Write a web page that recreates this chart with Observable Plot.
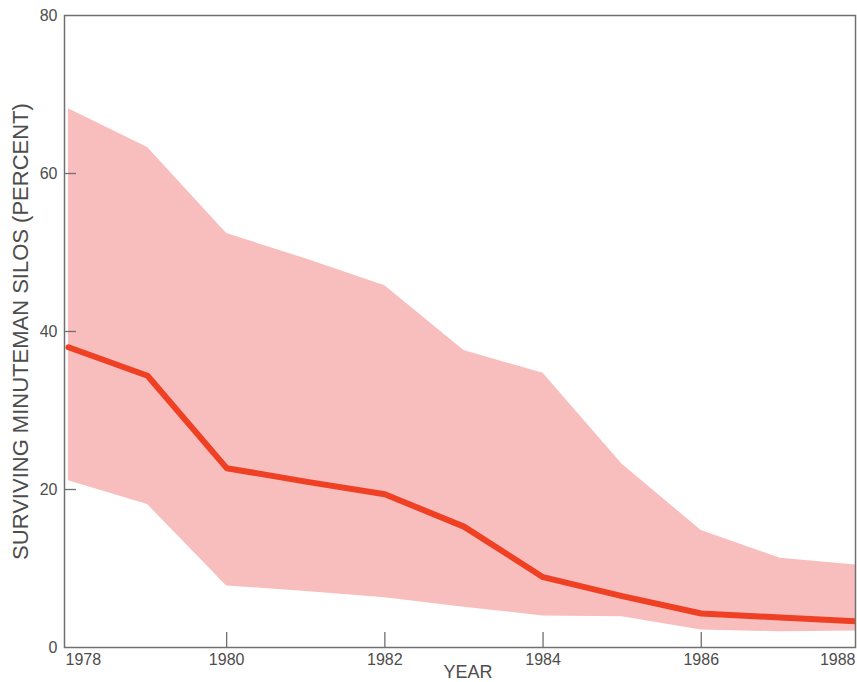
<!DOCTYPE html>
<html>
<head>
<meta charset="utf-8">
<script src="https://cdn.jsdelivr.net/npm/d3@7"></script>
<script src="https://cdn.jsdelivr.net/npm/@observablehq/plot@0.6"></script>
<style>
  html, body { margin: 0; padding: 0; background: #ffffff; }
  #chart svg { display: block; }
</style>
</head>
<body>
<div id="chart"></div>
<script>
// Projected share of Minuteman silos surviving an attack, by year
const years  = [1978, 1979, 1980, 1981, 1982, 1983, 1984, 1985, 1986, 1987, 1988];
const median = [38.0, 34.4, 22.7, 21.0, 19.4, 15.3, 8.9, 6.5, 4.3, 3.8, 3.3];
const upper  = [68.2, 63.3, 52.4, 49.2, 45.8, 37.6, 34.7, 23.2, 14.8, 11.3, 10.4];
const lower  = [21.1, 18.1, 7.8, 7.1, 6.3, 5.1, 4.0, 3.9, 2.2, 2.0, 2.1];

const xTickLabels = [1978, 1980, 1982, 1984, 1986, 1988];
const xTickMarks  = [1980, 1982, 1984, 1986];
const yTickLabels = [0, 20, 40, 60, 80];
const yTickMarks  = [20, 40, 60];

const yTitle = "SURVIVING MINUTEMAN SILOS (PERCENT)";
const xTitle = "YEAR";

const rows = years.map((year, i) => ({year, median: median[i], upper: upper[i], lower: lower[i]}));

const ink = "#4d4d4d";
const rule = "#707070";
const font = "'Liberation Sans', Arial, Helvetica, sans-serif";
const yearText = d => String(d);

const chart = Plot.plot({
  width: 857,
  height: 682,
  marginTop: 15,
  marginBottom: 35,
  marginLeft: 64,
  marginRight: 2,
  style: {fontFamily: font, fontSize: "16px", color: ink, background: "#ffffff"},
  x: {domain: [1977.95, 1987.95]},
  y: {domain: [0, 80]},
  marks: [
    Plot.areaY(rows, {x: "year", y1: "lower", y2: "upper", fill: "#f8bdbd", clip: true}),
    Plot.line(rows, {x: "year", y: "median", stroke: "#ef4023", strokeWidth: 6, strokeLinejoin: "round", clip: true}),
    Plot.frame({stroke: rule, strokeWidth: 1.5}),
    // inward tick marks
    Plot.axisX(xTickMarks, {anchor: "bottom", tickSize: 15, dy: -15, text: null, label: null, stroke: rule, strokeWidth: 1.3}),
    Plot.axisY(yTickMarks, {anchor: "left", tickSize: 12, dx: 12, text: null, label: null, stroke: rule, strokeWidth: 1.3}),
    // tick labels
    Plot.axisY(yTickLabels, {anchor: "left", tickSize: 0, tickPadding: 7, label: null, fill: ink, fontSize: 16}),
    Plot.text(xTickLabels.filter(d => d !== 1978 && d !== 1988), {x: d => d, text: yearText, frameAnchor: "bottom", dy: 17, fill: ink, fontSize: 16}),
    Plot.text(xTickLabels.filter(d => d === 1978), {frameAnchor: "bottom-left", text: yearText, dy: 17, dx: 1, textAnchor: "start", fill: ink, fontSize: 16}),
    Plot.text(xTickLabels.filter(d => d === 1988), {frameAnchor: "bottom-right", text: yearText, dy: 17, textAnchor: "end", fill: ink, fontSize: 16}),
    // axis titles
    Plot.text([xTitle], {frameAnchor: "bottom", dy: 30, dx: 8, fill: ink, fontSize: 18}),
    Plot.text([yTitle], {frameAnchor: "left", textAnchor: "middle", rotate: -90, dx: -44, fill: ink, fontSize: 22, letterSpacing: "1.2px"})
  ]
});

document.getElementById("chart").appendChild(chart);
</script>
</body>
</html>
